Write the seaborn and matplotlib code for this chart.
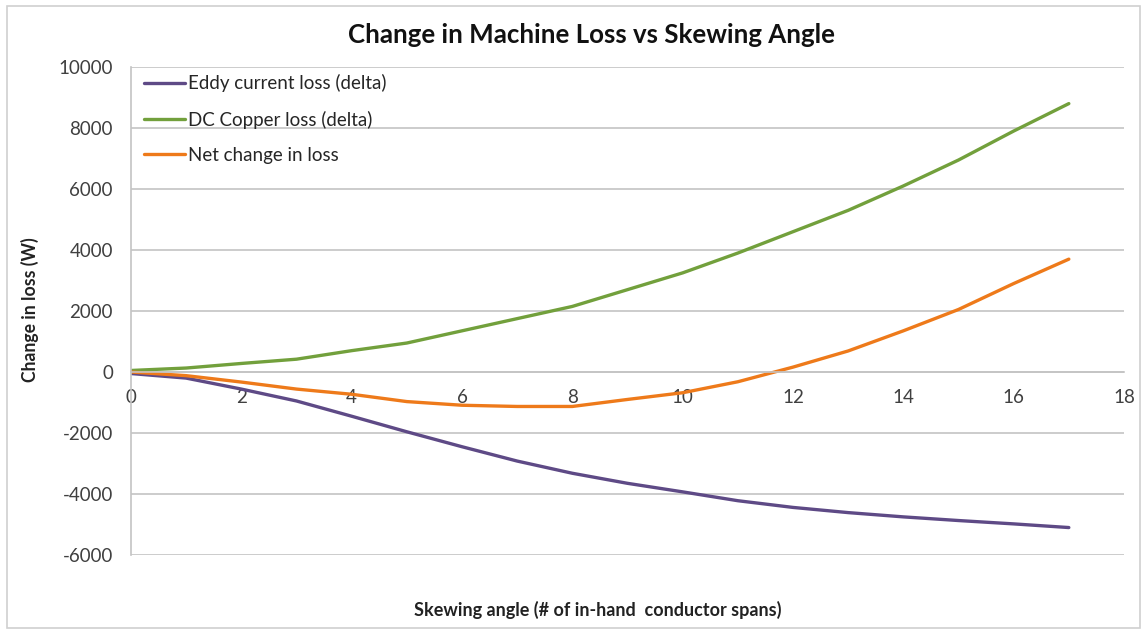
import matplotlib
matplotlib.use("Agg")
import matplotlib.pyplot as plt
from matplotlib.patches import Rectangle
import numpy as np
import pandas as pd
import seaborn as sns

# Skewing angle, in number of in-hand conductor spans
skew_angle = [0, 1, 2, 3, 4, 5, 6, 7, 8, 9, 10, 11, 12, 13, 14, 15, 16, 17]

# Change in loss (W) for each loss component
eddy_loss = [-50, -200, -560, -950, -1450, -1960, -2450, -2920, -3320, -3650,
             -3930, -4220, -4440, -4610, -4750, -4870, -4980, -5100]
dc_copper_loss = [50, 130, 280, 420, 700, 950, 1350, 1750, 2150, 2700,
                  3250, 3900, 4600, 5300, 6100, 6950, 7900, 8800]
net_loss = [0, -120, -330, -560, -730, -970, -1090, -1130, -1130, -900,
            -680, -320, 160, 690, 1350, 2050, 2900, 3700]

series_names = ["Eddy current loss (delta)", "DC Copper loss (delta)", "Net change in loss"]
series_colors = ["#5E4A86", "#72A03C", "#EE7A1A"]

y_ticks = [-6000, -4000, -2000, 0, 2000, 4000, 6000, 8000, 10000]
x_ticks = [0, 2, 4, 6, 8, 10, 12, 14, 16, 18]

df = pd.DataFrame({
    "angle": skew_angle * 3,
    "loss": eddy_loss + dc_copper_loss + net_loss,
    "series": ([series_names[0]] * len(skew_angle)
               + [series_names[1]] * len(skew_angle)
               + [series_names[2]] * len(skew_angle)),
})

sns.set_theme(style="white")
plt.rcParams["font.family"] = ["Lato", "DejaVu Sans"]

fig = plt.figure(figsize=(11.43, 6.31), dpi=100)
ax = fig.add_axes([131 / 1143, 1 - 555 / 631, (1124 - 131) / 1143, (555 - 67) / 631])

sns.lineplot(data=df, x="angle", y="loss", hue="series", hue_order=series_names,
             palette=series_colors, linewidth=2.4, ax=ax, legend=True)

grid_color = "#C4C4C4"
ax.set_xlim(0, 18)
ax.set_ylim(-6000, 10000)
ax.set_yticks(y_ticks)
ax.set_yticklabels([str(v) for v in y_ticks])
ax.set_xticks(x_ticks)
ax.set_xticklabels([str(v) for v in x_ticks])
ax.yaxis.grid(True, color=grid_color, linewidth=1.2)
ax.xaxis.grid(False)
ax.set_axisbelow(True)

for side in ["top", "right"]:
    ax.spines[side].set_visible(False)
ax.spines["bottom"].set_position(("data", 0))
ax.spines["bottom"].set_color(grid_color)
ax.spines["bottom"].set_linewidth(1.2)
ax.spines["left"].set_color(grid_color)
ax.spines["left"].set_linewidth(1.2)

ax.tick_params(axis="x", length=0, pad=12, labelsize=13.5, labelcolor="#404040")
ax.tick_params(axis="y", length=0, pad=13, labelsize=13.5, labelcolor="#404040")
ax.set_xlabel("")
ax.set_ylabel("")

leg = ax.legend(loc="upper left", bbox_to_anchor=(0.006, 1.001), frameon=False,
                fontsize=13.5, handlelength=2.15, handletextpad=0.15,
                labelspacing=0.98, borderaxespad=0)
for txt in leg.get_texts():
    txt.set_color("#262626")

fig.text(591 / 1143, 1 - 35 / 631, "Change in Machine Loss vs Skewing Angle",
         ha="center", va="center", fontsize=18.6, fontweight="bold", color="#111111")
fig.text(598 / 1143, 1 - 610 / 631, "Skewing angle (# of in-hand  conductor spans)",
         ha="center", va="center", fontsize=13, fontweight="bold", color="#222222")
fig.text(30 / 1143, 1 - 310 / 631, "Change in loss (W)", rotation=90,
         ha="center", va="center", fontsize=12.7, fontweight="bold", color="#222222")

# Light frame around the whole chart
fig.patches.append(Rectangle((7 / 1143, 3 / 631), 1133 / 1143, 622 / 631,
                             transform=fig.transFigure, fill=False,
                             edgecolor="#D0D0D0", linewidth=1.2))

fig.savefig("out.png", dpi=100, facecolor="white")
